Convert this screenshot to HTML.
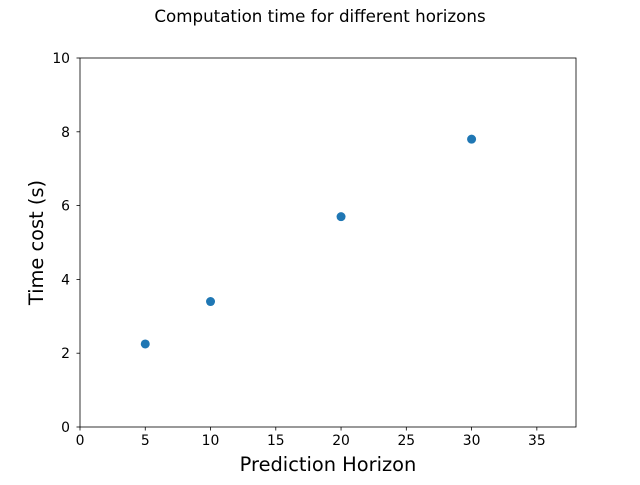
<!DOCTYPE html>
<html><head><meta charset="utf-8"><style>
body{margin:0;background:#fff;}
svg text{font-family:"DejaVu Sans","Liberation Sans",sans-serif;}
</style></head><body>
<svg id="chart" width="640" height="480" xmlns="http://www.w3.org/2000/svg">
<rect width="640" height="480" fill="#fff"/>
<text x="320" y="22" text-anchor="middle" font-size="16.7">Computation time for different horizons</text>
<g id="plot"></g>
<rect x="80" y="58" width="496" height="369" fill="none" stroke="#000" stroke-width="0.8"/>
<text x="328" y="471" text-anchor="middle" font-size="19.4">Prediction Horizon</text>
<text transform="translate(43,242.5) rotate(-90)" text-anchor="middle" font-size="19.4">Time cost (s)</text>
</svg>
<script>
const horizons=[5,10,20,30];
const timeCosts=[2.25,3.4,5.7,7.8];
const xTicks=[0,5,10,15,20,25,30,35];
const yTicks=[0,2,4,6,8,10];
const L=80,R=576,T=58,B=427,XMAX=38,YMAX=10;
const xs=v=>L+(R-L)*v/XMAX, ys=v=>B-(B-T)*v/YMAX;
const g=document.getElementById('plot');
const NS='http://www.w3.org/2000/svg';
function mk(t,a){const e=document.createElementNS(NS,t);for(const k in a)e.setAttribute(k,a[k]);g.appendChild(e);return e;}
xTicks.forEach(v=>{
  const l=mk('line',{x1:xs(v),x2:xs(v),y1:B,y2:B+3.5,stroke:'#000','stroke-width':0.8});
  
  
  const t=mk('text',{x:xs(v),y:B+18,'text-anchor':'middle','font-size':13.9});
  t.textContent=v;
  
  
});
yTicks.forEach(v=>{
  const l=mk('line',{x1:L-3.5,x2:L,y1:ys(v),y2:ys(v),stroke:'#000','stroke-width':0.8});
  
  
  const t=mk('text',{x:L-10,y:ys(v)+5,'text-anchor':'end','font-size':13.9});
  t.textContent=v;
  
  
});
horizons.forEach((h,i)=>{
  const c=mk('circle',{cx:xs(h),cy:ys(timeCosts[i]),r:4.5,fill:'#1f77b4'});
  
  
});
</script>
</body></html>
